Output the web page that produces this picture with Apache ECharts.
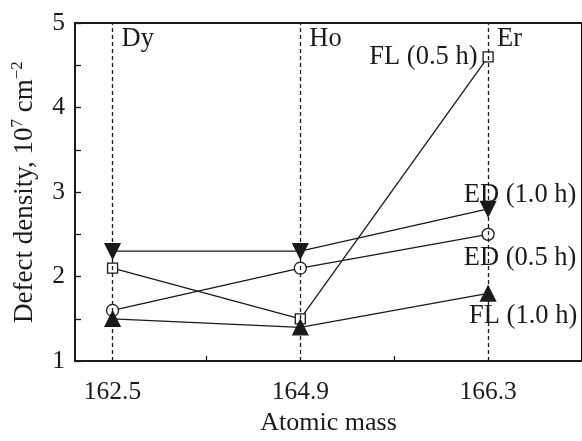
<!DOCTYPE html>
<html>
<head>
<meta charset="utf-8">
<script src="https://cdn.jsdelivr.net/npm/echarts@6/dist/echarts.min.js"></script>
<style>
  html, body { margin: 0; padding: 0; background: #fff; }
  #chart { width: 582px; height: 441px; }
</style>
</head>
<body>
<div id="chart"></div>
<script>
// atomic mass of the three rare-earth elements
const masses = ["162.5", "164.9", "166.3"];
const elements = ["Dy", "Ho", "Er"];

// defect density, 10^7 cm^-2
const ed10 = [2.3, 2.3, 2.8];
const ed05 = [1.6, 2.1, 2.5];
const fl05 = [2.1, 1.5, 4.6];
const fl10 = [1.5, 1.4, 1.8];

const font = "Liberation Serif";
const ink = "#1a1a1a";

function makeSeries(name, values, symbol, rotate, size, filled, label) {
  return {
    name: name,
    type: "line",
    symbol: symbol,
    symbolSize: size,
    symbolRotate: rotate,
    lineStyle: { color: ink, width: 1.3 },
    itemStyle: {
      color: filled ? ink : "#fff",
      borderColor: ink,
      borderWidth: 1.3,
    },
    data: values.map((v, i) => {
      const item = { value: [i, v] };
      if (i === values.length - 1) {
        item.label = Object.assign(
          { show: true, formatter: name, fontFamily: font, fontSize: 26.5, color: ink },
          label
        );
      }
      return item;
    }),
    z: 3,
  };
}

const chart = echarts.init(document.getElementById("chart"));

chart.setOption({
  animation: false,
  grid: {
    left: 75,
    top: 23,
    bottom: 64,
    right: -7,
    show: true,
    borderColor: ink,
    borderWidth: 2,
  },
  xAxis: {
    type: "value",
    min: -0.2,
    max: 2.5,
    name: "Atomic mass",
    nameLocation: "middle",
    nameGap: 39,
    nameTextStyle: { fontFamily: font, fontSize: 26, color: ink },
    axisLine: { onZero: false, lineStyle: { color: ink, width: 2 } },
    axisTick: { inside: true, length: 5, lineStyle: { color: ink, width: 1.3 }, customValues: [0.5, 1.5, 2.5] },
    axisLabel: {
      customValues: [0, 1, 2],
      formatter: (v) => masses[Math.round(v)],
      fontFamily: font,
      fontSize: 25.5,
      color: ink,
      margin: 18,
    },
    splitLine: { show: false },
  },
  yAxis: {
    type: "value",
    min: 1,
    max: 5,
    interval: 1,
    name: "Defect density, 10{sup|7} cm{sup|\u22122}",
    nameLocation: "middle",
    nameGap: 28,
    nameTextStyle: {
      fontFamily: font,
      fontSize: 27,
      color: ink,
      lineHeight: 32,
      rich: {
        sup: { fontFamily: font, fontSize: 17, color: ink, lineHeight: 17, verticalAlign: "top" },
      },
    },
    axisLine: { onZero: false, lineStyle: { color: ink, width: 2 } },
    axisTick: { inside: true, length: 6, lineStyle: { color: ink, width: 1.3 } },
    minorTick: { show: true, splitNumber: 2, length: 6, lineStyle: { color: ink, width: 1.3 } },
    axisLabel: { fontFamily: font, fontSize: 25.5, color: ink, margin: 10 },
    splitLine: { show: false },
  },
  series: [
    {
      name: "elements",
      type: "scatter",
      symbolSize: 0,
      itemStyle: { opacity: 1 },
      data: elements.map((e, i) => ({ value: [i, 4.81], name: e })),
      label: {
        show: true,
        position: "right",
        distance: 9,
        formatter: (p) => p.name,
        fontFamily: font,
        fontSize: 26.5,
        color: ink,
      },
      markLine: {
        silent: true,
        symbol: "none",
        label: { show: false },
        lineStyle: { color: ink, width: 1.3, type: [4, 3] },
        data: elements.map((e, i) => ({ xAxis: i })),
      },
      z: 1,
    },
    makeSeries("ED (1.0 h)", ed10, "triangle", 180, 15, true, { position: "inside", offset: [32, -14] }),
    makeSeries("ED (0.5 h)", ed05, "circle", 0, 12, false, { position: "inside", offset: [32, 24] }),
    makeSeries("FL (0.5 h)", fl05, "rect", 0, 10, false, { position: "left", distance: 5 }),
    makeSeries("FL (1.0 h)", fl10, "triangle", 0, 15, true, { position: "inside", offset: [35, 23] }),
  ],
});
</script>
</body>
</html>
